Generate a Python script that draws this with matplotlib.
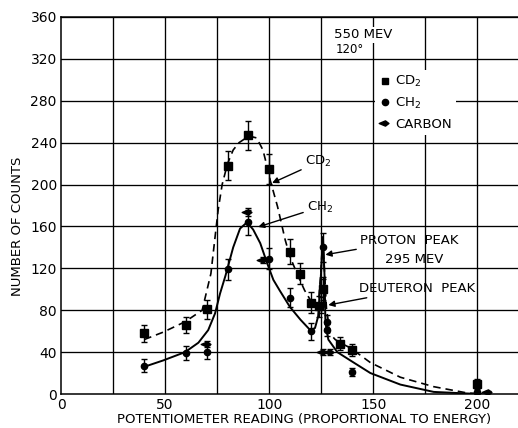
import matplotlib
matplotlib.use("Agg")
import matplotlib.pyplot as plt
from matplotlib.lines import Line2D
from matplotlib.path import Path

plt.rcParams['font.family'] = ['DejaVu Sans']
plt.rcParams['mathtext.fontset'] = 'dejavusans'

# ---- measured points ----
cd2_x = [40, 60, 70, 80, 90, 100, 110, 115, 120, 124, 126, 134, 140, 200]
cd2_y = [58, 66, 81, 218, 247, 215, 136, 115, 87, 84, 100, 48, 42, 10]
cd2_err = [8, 8, 9, 14, 14, 14, 12, 10, 10, 10, 12, 6, 6, 4]

ch2_x = [40, 60, 70, 80, 90, 100, 110, 120, 125, 126, 126, 128, 128, 140, 200]
ch2_y = [27, 39, 40, 119, 164, 129, 92, 60, 85, 100, 140, 69, 61, 21, 2]
ch2_err = [6, 7, 7, 10, 12, 10, 9, 8, 8, 10, 14, 6, 6, 4, 3]

carbon_x = [70, 90, 97, 126, 129, 205]
carbon_y = [48, 174, 128, 40, 40, 2]
carbon_err = [3, 4, 3, 3, 3, 1]

# ---- hand-drawn curves ----
cd2_curve_x = [40, 49, 59.6, 67.8, 69, 72, 74, 75.5, 77.4, 80, 82.7, 85.5, 88.5, 91, 94, 97,
               99, 100.5, 104, 107.7, 110, 114, 117, 119.7, 123.5, 124.8, 125.7, 126.6,
               127.5, 128.3, 129, 131.7, 135, 139, 148.6, 163, 179, 195, 202]
cd2_curve_y = [52, 59, 69, 80, 90, 115, 150, 176, 200, 220, 233, 240, 244, 246, 244.5, 233,
               217, 204, 179, 147, 131, 112, 99, 90, 83, 115, 150, 115,
               82, 70, 58, 52, 48, 44, 30, 16, 7, 1, 0]

ch2_curve_x = [40, 49, 59.6, 66, 70.7, 74, 76.4, 79, 82.7, 86, 89.4, 92.3, 95.7, 99, 102,
               105, 110, 115, 119.7, 122, 123.5, 124.8, 125.8, 126.6, 127, 128.4, 132.7,
               139, 148.6, 163, 179, 195, 202]
ch2_curve_y = [26, 32, 40, 49, 61, 77, 96, 113, 140, 158, 164, 157, 144, 125, 109,
               99, 83, 71, 61, 63, 74, 112, 150, 112, 68, 52, 40,
               32, 20, 9, 2, 0.5, 0]

x_ticks = [0, 50, 100, 150, 200]
y_ticks = [0, 40, 80, 120, 160, 200, 240, 280, 320, 360]

fig = plt.figure(figsize=(5.18, 4.28), dpi=100)
ax = fig.add_axes([61/518, 34/428, 1 - 61/518, 377/428])
ax.set_xlim(0, 219.5)
ax.set_ylim(0, 360)

for g in range(25, 225, 25):
    ax.axvline(g, color='black', lw=0.95, zorder=1)
for g in y_ticks[1:]:
    ax.axhline(g, color='black', lw=0.95, zorder=1)

for s in ['left', 'bottom', 'top']:
    ax.spines[s].set_linewidth(1.1)
ax.spines['right'].set_visible(False)

ax.set_xticks(x_ticks)
ax.set_yticks(y_ticks)
ax.tick_params(length=0, labelsize=10, pad=3)

ax.plot(cd2_curve_x, cd2_curve_y, color='black', lw=1.2, ls=(0, (4.5, 3)), zorder=3)
ax.plot(ch2_curve_x, ch2_curve_y, color='black', lw=1.4, zorder=3)

kite = Path([(-1.0, 0), (0.0, 0.42), (0.55, 0), (0.0, -0.42), (-1.0, 0)],
            [Path.MOVETO, Path.LINETO, Path.LINETO, Path.LINETO, Path.CLOSEPOLY])

ax.errorbar(cd2_x, cd2_y, yerr=cd2_err, fmt='s', color='black', ms=5.5,
            capsize=2.5, elinewidth=1, capthick=1, zorder=4)
ax.errorbar(ch2_x, ch2_y, yerr=ch2_err, fmt='o', color='black', ms=4.5,
            capsize=2.5, elinewidth=1, capthick=1, zorder=4)
ax.errorbar(carbon_x, carbon_y, yerr=carbon_err, fmt='none', color='black',
            capsize=2.5, elinewidth=1, capthick=1, zorder=4)
ax.plot(carbon_x, carbon_y, ls='none', marker=kite, ms=9, color='black', zorder=5)

fs = 9.5
ax.text(131, 343, '550 MEV', fontsize=fs, va='center', ha='left', zorder=6,
        bbox=dict(facecolor='white', edgecolor='none', pad=1))
ax.text(132, 329, '120°', fontsize=8.5, va='center', ha='left', zorder=6,
        bbox=dict(facecolor='white', edgecolor='none', pad=0.5))

handles = [Line2D([], [], ls='none', marker='s', ms=5, color='black'),
           Line2D([], [], ls='none', marker='o', ms=4.5, color='black'),
           Line2D([], [], ls='none', marker=kite, ms=9, color='black')]
leg = ax.legend(handles, ['CD$_2$', 'CH$_2$', 'CARBON'], loc='upper left',
                bbox_to_anchor=(151/219.5, 309/360), frameon=True, fontsize=fs,
                handlelength=0.8, handletextpad=0.4, labelspacing=0.5,
                borderpad=0.3, borderaxespad=0, fancybox=False)
leg.get_frame().set_facecolor('white')
leg.get_frame().set_edgecolor('none')
leg.get_frame().set_alpha(1)
leg.set_zorder(6)

arrow = dict(arrowstyle='-|>', color='black', lw=1, shrinkA=1, shrinkB=0,
             mutation_scale=9)
ax.annotate('CD$_2$', xy=(101.4, 201.5), xytext=(117.3, 221.6), fontsize=fs,
            va='center', ha='left', arrowprops=arrow, zorder=6)
ax.annotate('CH$_2$', xy=(94.7, 159.5), xytext=(118.3, 178.6), fontsize=fs,
            va='center', ha='left', arrowprops=arrow, zorder=6)
ax.annotate('PROTON  PEAK', xy=(127, 133), xytext=(143.8, 147), fontsize=fs,
            va='center', ha='left', arrowprops=arrow, zorder=6)
ax.text(169.5, 128, '295 MEV', fontsize=fs, va='center', ha='center', zorder=6)
ax.annotate('DEUTERON  PEAK', xy=(128.4, 85), xytext=(143.3, 101), fontsize=fs,
            va='center', ha='left', arrowprops=arrow, zorder=6)

fig.text(304/518, 1 - 419/428, 'POTENTIOMETER READING (PROPORTIONAL TO ENERGY)',
         fontsize=fs, ha='center', va='center')
fig.text(18/518, 1 - 226/428, 'NUMBER OF COUNTS', fontsize=fs, ha='center',
         va='center', rotation=90)

fig.savefig('out.png', dpi=100)
